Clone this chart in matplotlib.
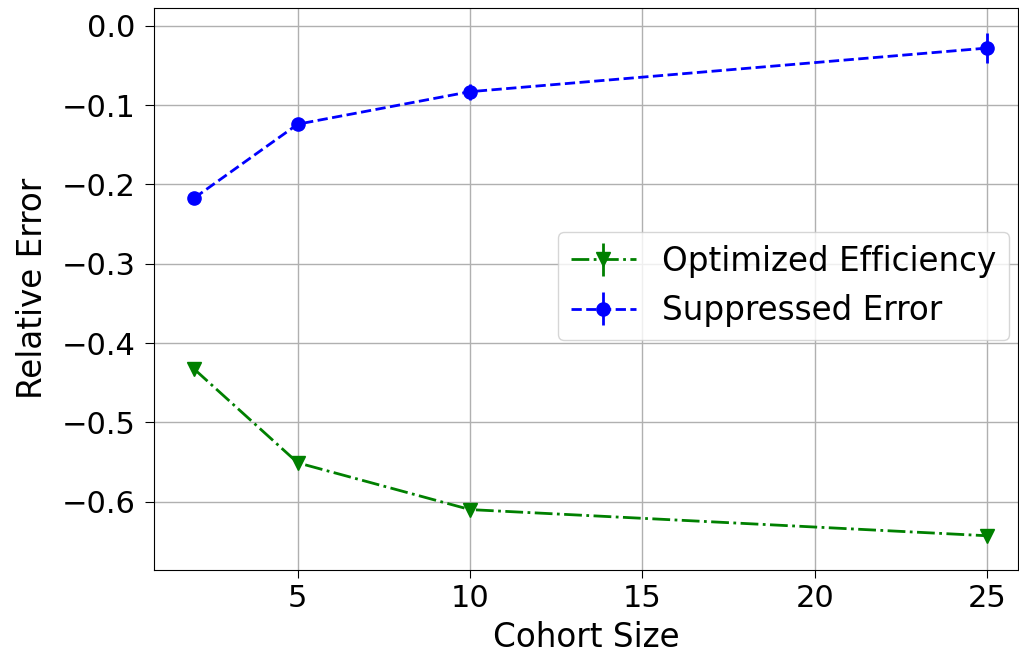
import matplotlib
matplotlib.use("Agg")
import matplotlib.pyplot as plt

cohort_sizes = [2, 5, 10, 25]
optimized_eff = [-0.433, -0.551, -0.610, -0.643]
optimized_err = [0.004, 0.005, 0.005, 0.005]
suppressed_err_vals = [-0.217, -0.124, -0.083, -0.028]
suppressed_err_err = [0.004, 0.006, 0.010, 0.019]

fig = plt.figure(figsize=(10.2, 6.55), dpi=100)
ax = fig.add_axes([0.151, 0.130, 0.847, 0.858])
tick_fs = 22
lab_fs = 23.5
ax.errorbar(cohort_sizes, optimized_eff, yerr=optimized_err, color='green',
            linestyle='-.', marker='v', markersize=9.5, linewidth=2, elinewidth=2,
            label='Optimized Efficiency')
ax.errorbar(cohort_sizes, suppressed_err_vals, yerr=suppressed_err_err, color='blue',
            linestyle='--', marker='o', markersize=9.5, linewidth=2, elinewidth=2,
            label='Suppressed Error')
ax.set_xlim(0.83, 25.9)
ax.set_ylim(-0.686, 0.0227)
ax.set_xticks([5, 10, 15, 20, 25])
ax.set_yticks([0.0, -0.1, -0.2, -0.3, -0.4, -0.5, -0.6])
ax.grid(True, color='#b0b0b0', linewidth=1)
ax.tick_params(axis='y', labelsize=tick_fs, length=6.5, pad=7)
ax.tick_params(axis='x', labelsize=tick_fs, length=6, pad=4)
ax.set_xlabel('Cohort Size', fontsize=lab_fs, labelpad=6)
ax.set_ylabel('Relative Error', fontsize=lab_fs, labelpad=9)
ax.legend(loc='center right', fontsize=lab_fs, handlelength=2.0,
          bbox_to_anchor=(1.009, 0.505))
fig.savefig('out.png', dpi=100)
